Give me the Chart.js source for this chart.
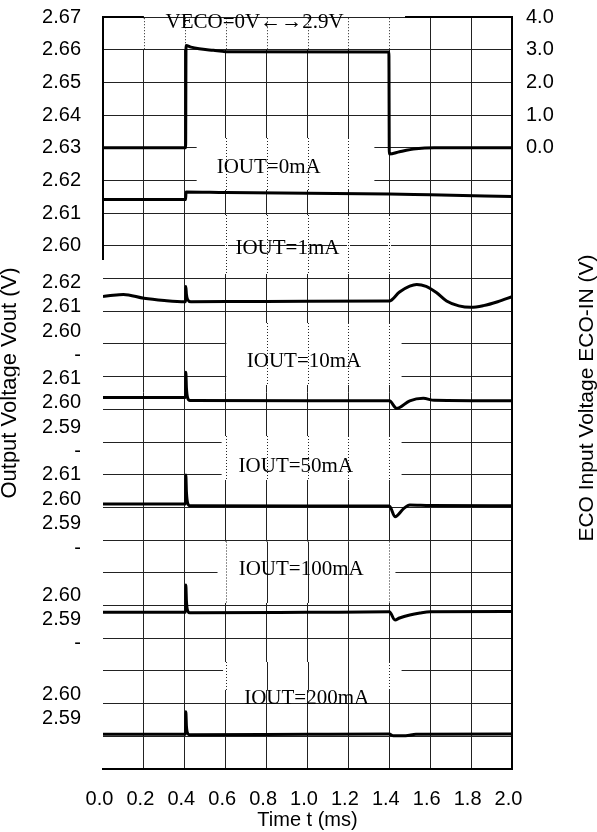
<!DOCTYPE html>
<html>
<head>
<meta charset="utf-8">
<script src="https://cdn.jsdelivr.net/npm/chart.js"></script>
<style>
html,body{margin:0;padding:0;background:#fff;}
canvas{display:block;}
</style>
</head>
<body>
<canvas id="c" width="597" height="832"></canvas>
<script>
// ---------------- DATA ----------------
// x axis: time (ms)
const timeTicks = [0.0, 0.2, 0.4, 0.6, 0.8, 1.0, 1.2, 1.4, 1.6, 1.8, 2.0];

// ECO input voltage (right axis, V)
const timeEco  = [0, 0.404, 0.406, 0.43, 0.47, 0.54, 0.6, 1.398, 1.400, 1.45, 1.53, 1.62, 2.0];
const ecoVolts = [0, 0, 3.13, 3.08, 3.03, 2.98, 2.94, 2.93, -0.19, -0.12, -0.03, 0.0, 0.0];
const ecoTickVals = [4, 3, 2, 1, 0];

// Vout traces (V), one per load current
const time0mA = [0, 0.404, 0.406, 0.6, 1.0, 1.4, 1.6, 2.0];
const vout0mA = [2.6142, 2.6142, 2.6165, 2.6163, 2.6161, 2.6159, 2.6156, 2.6151];

const time1mA = [0, 0.05, 0.1, 0.2, 0.3, 0.4, 0.403, 0.405, 0.408, 0.414, 0.43, 0.7, 1.0, 1.4, 1.45, 1.5, 1.534, 1.58, 1.63, 1.68, 1.74, 1.8, 1.86, 1.93, 2.0];
const vout1mA = [2.6141, 2.6147, 2.6150, 2.6134, 2.6125, 2.6120, 2.6120, 2.6182, 2.6150, 2.6128, 2.6120, 2.6121, 2.6122, 2.6123, 2.6160, 2.6184, 2.6191, 2.6183, 2.6158, 2.6123, 2.6103, 2.6097, 2.6104, 2.6120, 2.6141];

const time10mA = [0, 0.4, 0.403, 0.405, 0.408, 0.414, 0.425, 1.0, 1.40, 1.436, 1.5, 1.566, 1.62, 2.0];
const vout10mA = [2.6022, 2.6022, 2.6022, 2.6125, 2.6060, 2.6020, 2.6009, 2.6008, 2.6008, 2.5977, 2.6008, 2.6018, 2.6010, 2.6008];

const time50mA = [0, 0.4, 0.403, 0.405, 0.408, 0.414, 0.425, 1.0, 1.40, 1.428, 1.47, 1.50, 1.6, 2.0];
const vout50mA = [2.5981, 2.5981, 2.5981, 2.6100, 2.6030, 2.5985, 2.5974, 2.5973, 2.5973, 2.5929, 2.5962, 2.5977, 2.5975, 2.5974];

const time100mA = [0, 0.4, 0.403, 0.405, 0.408, 0.414, 0.425, 1.0, 1.40, 1.428, 1.45, 1.5, 1.55, 1.6, 2.0];
const vout100mA = [2.5929, 2.5929, 2.5929, 2.6041, 2.5975, 2.5935, 2.5927, 2.5929, 2.5931, 2.5898, 2.5906, 2.5918, 2.5926, 2.5931, 2.5932];

const time200mA = [0, 0.4, 0.403, 0.405, 0.408, 0.414, 0.425, 1.0, 1.40, 1.42, 1.48, 1.53, 2.0];
const vout200mA = [2.5836, 2.5836, 2.5836, 2.5929, 2.5870, 2.5840, 2.5834, 2.5836, 2.5837, 2.5830, 2.5830, 2.5836, 2.5837];

// left tick labels: top panel (shares the grid axis), then one group per stacked panel
const topTickVals = [2.67, 2.66, 2.65, 2.64, 2.63, 2.62, 2.61, 2.60];
const tickVals1mA = [2.62, 2.61, 2.60, 2.59];   const tickText1mA = ['2.62', '2.61', '2.60', '-'];
const tickVals10mA = [2.61, 2.60, 2.59, 2.58];  const tickText10mA = ['2.61', '2.60', '2.59', '-'];
const tickVals50mA = [2.61, 2.60, 2.59, 2.58];  const tickText50mA = ['2.61', '2.60', '2.59', '-'];
const tickVals100mA = [2.60, 2.59, 2.58];       const tickText100mA = ['2.60', '2.59', '-'];
const tickVals200mA = [2.60, 2.59];             const tickText200mA = ['2.60', '2.59'];

// trace labels
const traceLabels = ['VECO=0V\u2190\u21922.9V', 'IOUT=0mA', 'IOUT=1mA', 'IOUT=10mA', 'IOUT=50mA', 'IOUT=100mA', 'IOUT=200mA'];

// ---------------- LAYOUT / STYLE ----------------
const SANS = "'Liberation Sans', Arial, sans-serif";
const SERIF = "'Liberation Serif', 'Times New Roman', serif";
const GRID_MIN = 2.44, GRID_MAX = 2.67;   // main (top panel) axis range
const PANEL_SPAN = 0.3082;                // volts over the full plot height for stacked panels
const panelMax = {p1: 2.7287, p10: 2.7581, p50: 2.7977, p100: 2.8369, p200: 2.8776};

// label boxes (x in ms, top/bottom on the main grid axis), with label anchor
const labelBoxes = [
  {x0: 0.19,  x1: 1.48, top: 2.66963, bottom: 2.66021, fill: true,  solid: [], tx: 0.741, ty: 2.6684},
  {x0: 0.458, x1: 1.327, top: 2.63299, bottom: 2.61709, fill: true, solid: [], tx: 0.81, ty: 2.6239},
  {x0: 0.5,   x1: 1.5,  top: 2.60944, bottom: 2.59140, fill: false, solid: [], tx: 0.902, ty: 2.5991},
  {x0: 0.603, x1: 1.46, top: 2.57641, bottom: 2.55745, fill: true,  solid: [], tx: 0.983, ty: 2.5646},
  {x0: 0.58,  x1: 1.46, top: 2.54185, bottom: 2.52839, fill: true,  solid: [], tx: 0.943, ty: 2.5325},
  {x0: 0.56,  x1: 1.43, top: 2.50958, bottom: 2.49078, fill: true,  solid: [0.8, 1.0, 1.2], tx: 0.969, ty: 2.5009},
  {x0: 0.587, x1: 1.46, top: 2.47273, bottom: 2.46417, fill: true,  solid: [0.8, 1.0, 1.2], tx: 0.996, ty: 2.4617}
];

function pts(t, v) { return t.map((x, i) => ({x: x, y: v[i]})); }

function trace(t, v, axis) {
  return {data: pts(t, v), yAxisID: axis, borderColor: '#000', borderWidth: 3,
          pointRadius: 0, cubicInterpolationMode: 'monotone', fill: false};
}

function panelAxis(max) {
  return {type: 'linear', display: false, min: +(max - PANEL_SPAN).toFixed(4), max: max};
}

// a panel value expressed on the shared label axis (same linear mapping as the panel's own axis)
function onLabelAxis(max, v) {
  return GRID_MAX - (max - v) / PANEL_SPAN * (GRID_MAX - GRID_MIN);
}

const leftLabels = [];
topTickVals.forEach(v => leftLabels.push({value: v, text: v.toFixed(2)}));
[[panelMax.p1, tickVals1mA, tickText1mA],
 [panelMax.p10, tickVals10mA, tickText10mA],
 [panelMax.p50, tickVals50mA, tickText50mA],
 [panelMax.p100, tickVals100mA, tickText100mA],
 [panelMax.p200, tickVals200mA, tickText200mA]].forEach(([m, vals, texts]) => {
  vals.forEach((v, i) => leftLabels.push({value: onLabelAxis(m, v), text: texts[i]}));
});

const annotPlugin = {
  id: 'annot',
  beforeDatasetsDraw(chart) {
    const {ctx, scales: {x, y}} = chart;
    const gx = x.ticks.map(t => t.value);
    ctx.save();
    labelBoxes.forEach((b, i) => {
      const L = x.getPixelForValue(b.x0), R = x.getPixelForValue(b.x1);
      const T = y.getPixelForValue(b.top), B = y.getPixelForValue(b.bottom);
      ctx.fillStyle = '#fff';
      if (b.fill) ctx.fillRect(L, T, R - L, B - T);
      gx.forEach(g => {
        if (g <= b.x0 || g >= b.x1) return;
        const px = Math.round(x.getPixelForValue(g)) + 0.5;
        const isSolid = b.solid.some(s => Math.abs(s - g) < 1e-6);
        if (!b.fill) { ctx.fillStyle = '#fff'; ctx.fillRect(px - 1.5, T, 3, B - T); }
        ctx.beginPath();
        ctx.strokeStyle = '#222';
        ctx.lineWidth = 1;
        ctx.setLineDash(isSolid ? [] : [1, 2]);
        ctx.moveTo(px, T); ctx.lineTo(px, B);
        ctx.stroke();
      });
      ctx.setLineDash([]);
      ctx.fillStyle = '#000';
      ctx.font = '21px ' + SERIF;
      ctx.textAlign = 'center';
      ctx.textBaseline = 'middle';
      ctx.fillText(traceLabels[i], x.getPixelForValue(b.tx), y.getPixelForValue(b.ty));
    });
    // partial heavy frame (left edge of top panel, top edge segments)
    const area = chart.chartArea;
    ctx.strokeStyle = '#000';
    ctx.lineWidth = 2;
    ctx.beginPath();
    ctx.moveTo(area.left, area.top - 1);
    ctx.lineTo(area.left, y.getPixelForValue(2.5957));
    ctx.moveTo(area.left - 1, area.top);
    ctx.lineTo(x.getPixelForValue(0.2), area.top);
    ctx.moveTo(x.getPixelForValue(1.477), area.top);
    ctx.lineTo(x.getPixelForValue(2.0) + 1, area.top);
    ctx.stroke();
    ctx.restore();
  },
  afterDraw(chart) {
    const ctx = chart.ctx;
    const area = chart.chartArea;
    const mid = (area.top + area.bottom) / 2;
    ctx.save();
    ctx.fillStyle = '#000';
    ctx.textAlign = 'center';
    ctx.textBaseline = 'middle';
    ctx.font = '22px ' + SANS;
    ctx.beginPath(); ctx.rect(0, 0, 19.5, chart.height); ctx.clip();
    ctx.translate(9.9, mid - 10);
    ctx.rotate(-Math.PI / 2);
    ctx.fillText('Output Voltage Vout (V)', 0, 0);
    ctx.restore();
    ctx.save();
    ctx.fillStyle = '#000';
    ctx.textAlign = 'center';
    ctx.textBaseline = 'middle';
    ctx.font = '21px ' + SANS;
    ctx.translate(587, mid + 5);
    ctx.rotate(-Math.PI / 2);
    ctx.fillText('ECO Input Voltage ECO-IN (V)', 0, 0);
    ctx.restore();
  }
};

new Chart(document.getElementById('c'), {
  type: 'line',
  data: {
    datasets: [
      trace(timeEco, ecoVolts, 'yEco'),
      trace(time0mA, vout0mA, 'y'),
      trace(time1mA, vout1mA, 'p1'),
      trace(time10mA, vout10mA, 'p10'),
      trace(time50mA, vout50mA, 'p50'),
      trace(time100mA, vout100mA, 'p100'),
      trace(time200mA, vout200mA, 'p200')
    ]
  },
  options: {
    responsive: false,
    animation: false,
    devicePixelRatio: 1,
    layout: {autoPadding: false, padding: {top: 17, left: 0, right: 0, bottom: 0}},
    plugins: {legend: {display: false}, tooltip: {enabled: false}},
    scales: {
      x: {
        type: 'linear', position: 'bottom', min: 0, max: 2,
        afterBuildTicks: s => { s.ticks = timeTicks.map(v => ({value: v})); },
        ticks: {autoSkip: false, maxRotation: 0, padding: 18, labelOffset: -3.5, color: '#000',
                font: {family: SANS, size: 20}, callback: v => v.toFixed(1)},
        grid: {color: c => (c.tick && c.tick.value === 0) ? 'rgba(0,0,0,0)' : '#222', lineWidth: 1, drawTicks: false},
        border: {display: true, color: '#000', width: 2},
        title: {display: true, text: 'Time t (ms)', color: '#000', font: {family: SANS, size: 20}, padding: {top: 0, bottom: 0}},
        afterFit: s => { s.height = 63; }
      },
      yl: {
        type: 'linear', position: 'left', min: GRID_MIN, max: GRID_MAX,
        afterBuildTicks: s => { s.ticks = leftLabels.map(l => ({value: l.value})); },
        ticks: {autoSkip: false, padding: 0, color: '#000', font: {family: SANS, size: 20},
                callback: (v, i) => leftLabels[i].text},
        grid: {display: false, drawTicks: true, tickLength: 22},
        border: {display: false},
        afterFit: s => { s.width = 103; s.paddingTop = 0; s.paddingBottom = 0; }
      },
      y: {
        type: 'linear', position: 'left', min: GRID_MIN, max: GRID_MAX,
        ticks: {display: false, stepSize: 0.01},
        grid: {color: '#222', lineWidth: 1, drawTicks: false},
        border: {display: false},
        afterFit: s => { s.width = 0; s.paddingTop = 0; s.paddingBottom = 0; }
      },
      p1: panelAxis(panelMax.p1),
      p10: panelAxis(panelMax.p10),
      p50: panelAxis(panelMax.p50),
      p100: panelAxis(panelMax.p100),
      p200: panelAxis(panelMax.p200),
      yEco: {
        type: 'linear', position: 'right', min: -19, max: 4,
        afterBuildTicks: s => { s.ticks = ecoTickVals.map(v => ({value: v})); },
        ticks: {autoSkip: false, padding: 0, color: '#000', font: {family: SANS, size: 20}, callback: v => v.toFixed(1)},
        grid: {display: false, drawTicks: true, tickLength: 14},
        border: {display: true, color: '#000', width: 2},
        afterFit: s => { s.width = 85; s.paddingTop = 0; s.paddingBottom = 0; }
      }
    }
  },
  plugins: [annotPlugin]
});
</script>
</body>
</html>
